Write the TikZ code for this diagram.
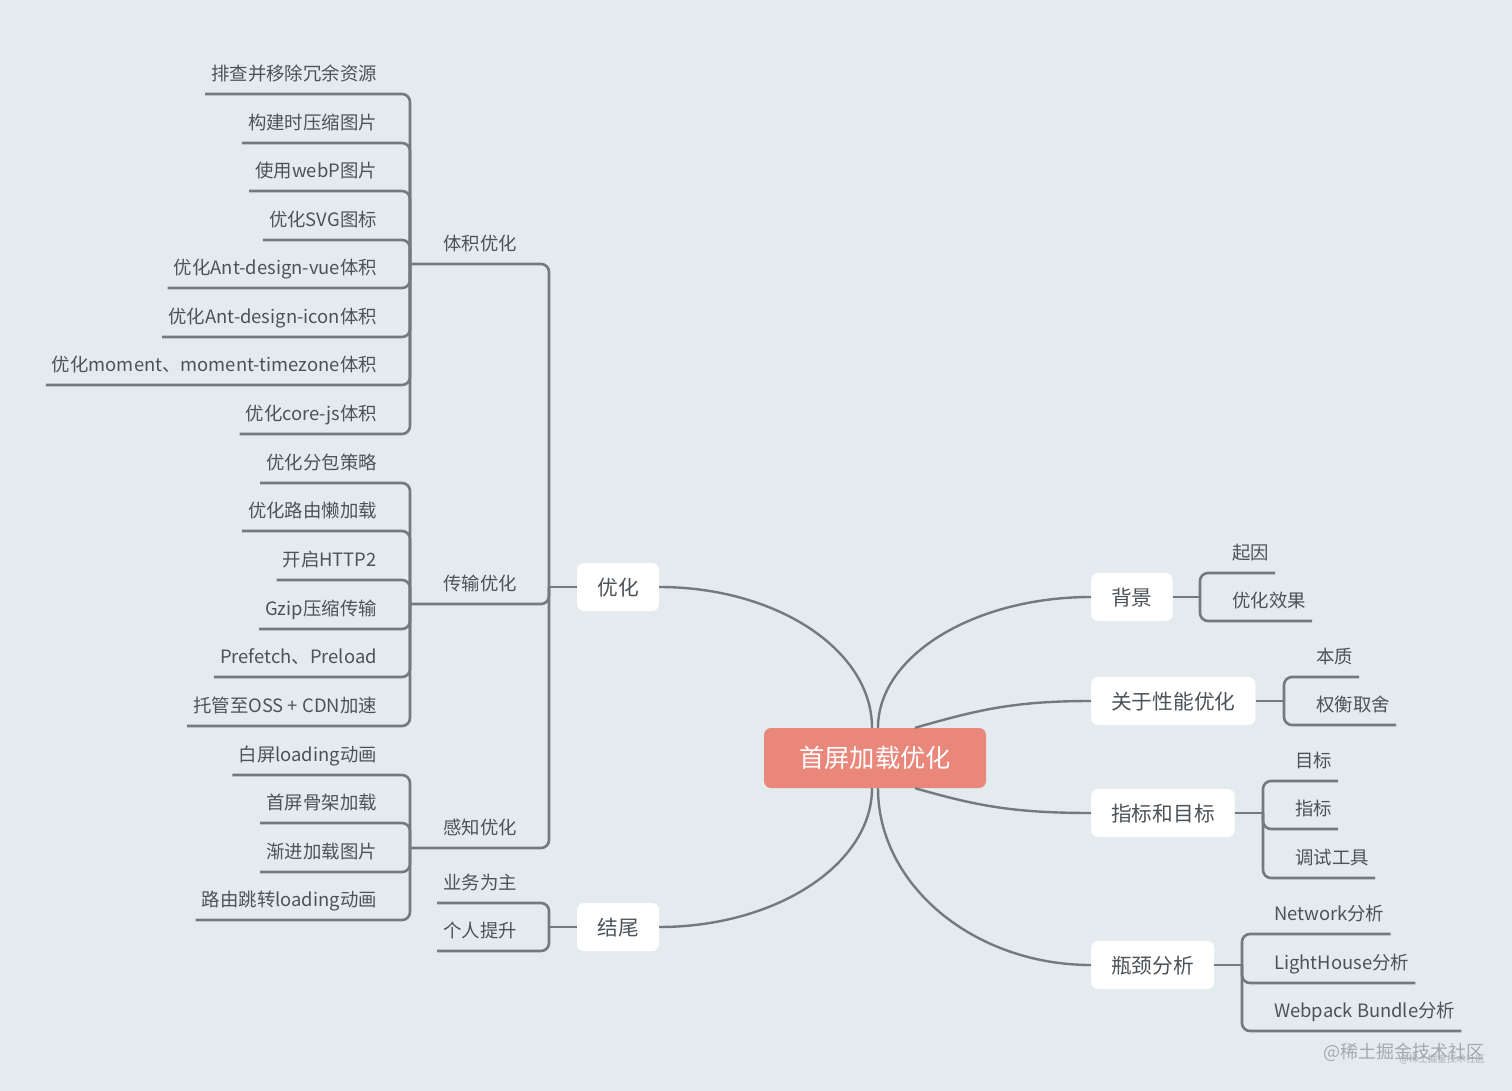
\documentclass[tikz,border=0pt]{standalone}
\usepackage{fontspec}
\newfontfamily\cjk{Noto Sans CJK SC}
\definecolor{bgc}{HTML}{E4EBEF}
\definecolor{linec}{HTML}{737A7F}
\definecolor{txtc}{HTML}{4D5256}
\definecolor{rootc}{HTML}{E8877A}
\definecolor{wmc}{HTML}{A3A8AC}
\begin{document}
\begin{tikzpicture}[x=1pt,y=-1pt,
 conn/.style={draw=linec,line width=2.6pt,rounded corners=8pt},
 curve/.style={draw=linec,line width=2.4pt},
 leaf/.style={font=\cjk\fontsize{18.4}{20}\selectfont,text=txtc,inner xsep=6pt,inner ysep=9pt,text height=14pt,text depth=4pt},
 lleaf/.style={leaf,anchor=south east},
 rleaf/.style={leaf,anchor=south west},
 topic/.style={fill=white,rounded corners=7pt,minimum height=48pt,inner xsep=20pt,inner ysep=0pt,font=\cjk\fontsize{20.7}{22}\selectfont,text=txtc,text height=18pt,text depth=2pt},
 root/.style={fill=rootc,rounded corners=7pt,minimum width=222pt,minimum height=60pt,inner xsep=0pt,inner ysep=0pt,font=\cjk\fontsize{25.3}{28}\selectfont,text=white,text height=21pt,text depth=2pt},
 wm/.style={font=\cjk\fontsize{18}{20}\selectfont,text=wmc,inner sep=0pt}]
\fill[bgc] (0,0) rectangle (1512,1091);
% main nodes
\node[root] (C) at (875,758) {首屏加载优化};
\node[topic,minimum width=82pt] (O) at (618,587) {优化};
\node[topic,minimum width=82pt] (E) at (618,927) {结尾};
\node[topic,anchor=west] (B) at (1091,597) {背景};
\node[topic,anchor=west] (K) at (1091,701) {关于性能优化};
\node[topic,anchor=west] (Z) at (1091,813) {指标和目标};
\node[topic,anchor=west] (P) at (1091,965) {瓶颈分析};
% junctions
\coordinate (Jo) at (549,587);
\coordinate (Je) at (549,927);
\coordinate (J1) at (410,264);
\coordinate (J2) at (410,604);
\coordinate (J3) at (410,848);
\coordinate (Jb) at (1200,597);
\coordinate (Jk) at (1284,701);
\coordinate (Jz) at (1263,813);
\coordinate (Jp) at (1242,965);
% curves from root
\draw[curve] (O.east) .. controls +(117,0) and +(0,-78) .. ([xshift=-3pt]C.north);
\draw[curve] (E.east) .. controls +(117,0) and +(0,76) .. ([xshift=-3pt]C.south);
\draw[curve] (B.west) .. controls +(-117,0) and +(0,-72) .. ([xshift=3pt]C.north);
\draw[curve] (K.west) .. controls +(-80,0) and +(60,-17) .. ([xshift=40pt]C.north);
\draw[curve] (Z.west) .. controls +(-80,0) and +(60,17) .. ([xshift=40pt]C.south);
\draw[curve] (P.west) .. controls +(-117,0) and +(0,97) .. ([xshift=3pt]C.south);
% left branch: 优化
\draw[conn] (O.west) -- (Jo);
\node[rleaf] (V1) at (437,264) {体积优化};
\node[rleaf] (V2) at (437,604) {传输优化};
\node[rleaf] (V3) at (437,848) {感知优化};
\draw[conn] (J1) -- (J1 -| Jo) -- (Jo);
\draw[conn] (J2) -- (J2 -| Jo) -- (Jo);
\draw[conn] (J3) -- (J3 -| Jo) -- (Jo);
\foreach \yy/\txt [count=\i] in {94/排查并移除冗余资源,143/构建时压缩图片,191/使用webP图片,240/优化SVG图标,288/优化Ant-design-vue体积,337/优化Ant-design-icon体积,385/优化moment、moment-timezone体积,434/优化core-js体积}{
  \node[lleaf] (a\i) at (383,\yy) {\txt};
  \draw[conn] (a\i.south west) -- (J1 |- a\i.south) -- (J1);
}
\foreach \yy/\txt [count=\i] in {483/优化分包策略,531/优化路由懒加载,580/开启HTTP2,629/Gzip压缩传输,677/Prefetch、Preload,726/托管至OSS + CDN加速}{
  \node[lleaf] (t\i) at (383,\yy) {\txt};
  \draw[conn] (t\i.south west) -- (J2 |- t\i.south) -- (J2);
}
\foreach \yy/\txt [count=\i] in {775/白屏loading动画,823/首屏骨架加载,872/渐进加载图片,920/路由跳转loading动画}{
  \node[lleaf] (g\i) at (383,\yy) {\txt};
  \draw[conn] (g\i.south west) -- (J3 |- g\i.south) -- (J3);
}
% 结尾
\draw[conn] (E.west) -- (Je);
\node[rleaf] (e1) at (437,903) {业务为主};
\node[rleaf] (e2) at (437,951) {个人提升};
\draw[conn] (e1.south west) -- (Je |- e1.south) -- (Je);
\draw[conn] (e2.south west) -- (Je |- e2.south) -- (Je);
% right: 背景
\draw[conn] (B.east) -- (Jb);
\node[rleaf] (b1) at (1226,573) {起因};
\node[rleaf] (b2) at (1226,621) {优化效果};
\draw[conn] (b1.south east) -- (Jb |- b1.south) -- (Jb);
\draw[conn] (b2.south east) -- (Jb |- b2.south) -- (Jb);
% 关于性能优化
\draw[conn] (K.east) -- (Jk);
\node[rleaf] (k1) at (1310,677) {本质};
\node[rleaf] (k2) at (1310,725) {权衡取舍};
\draw[conn] (k1.south east) -- (Jk |- k1.south) -- (Jk);
\draw[conn] (k2.south east) -- (Jk |- k2.south) -- (Jk);
% 指标和目标
\draw[conn] (Z.east) -- (Jz);
\node[rleaf] (z1) at (1289,781) {目标};
\node[rleaf] (z2) at (1289,829) {指标};
\node[rleaf] (z3) at (1289,878) {调试工具};
\draw[conn] (z1.south east) -- (Jz |- z1.south) -- (Jz);
\draw[conn] (z2.south east) -- (Jz |- z2.south) -- (Jz);
\draw[conn] (z3.south east) -- (Jz |- z3.south) -- (Jz);
% 瓶颈分析
\draw[conn] (P.east) -- (Jp);
\node[rleaf] (p1) at (1268,934) {Network分析};
\node[rleaf] (p2) at (1268,983) {LightHouse分析};
\node[rleaf] (p3) at (1268,1031) {Webpack Bundle分析};
\draw[conn] (p1.south east) -- (Jp |- p1.south) -- (Jp);
\draw[conn] (p2.south east) -- (Jp |- p2.south) -- (Jp);
\draw[conn] (p3.south east) -- (Jp |- p3.south) -- (Jp);
% watermark
\node[wm,anchor=east] (W1) at (1485,1052) {@稀土掘金技术社区};
\node[wm,anchor=east,font=\cjk\fontsize{9.5}{11}\selectfont] (W2) at (1485,1059) {@稀土掘金技术社区};
\end{tikzpicture}
\end{document}
